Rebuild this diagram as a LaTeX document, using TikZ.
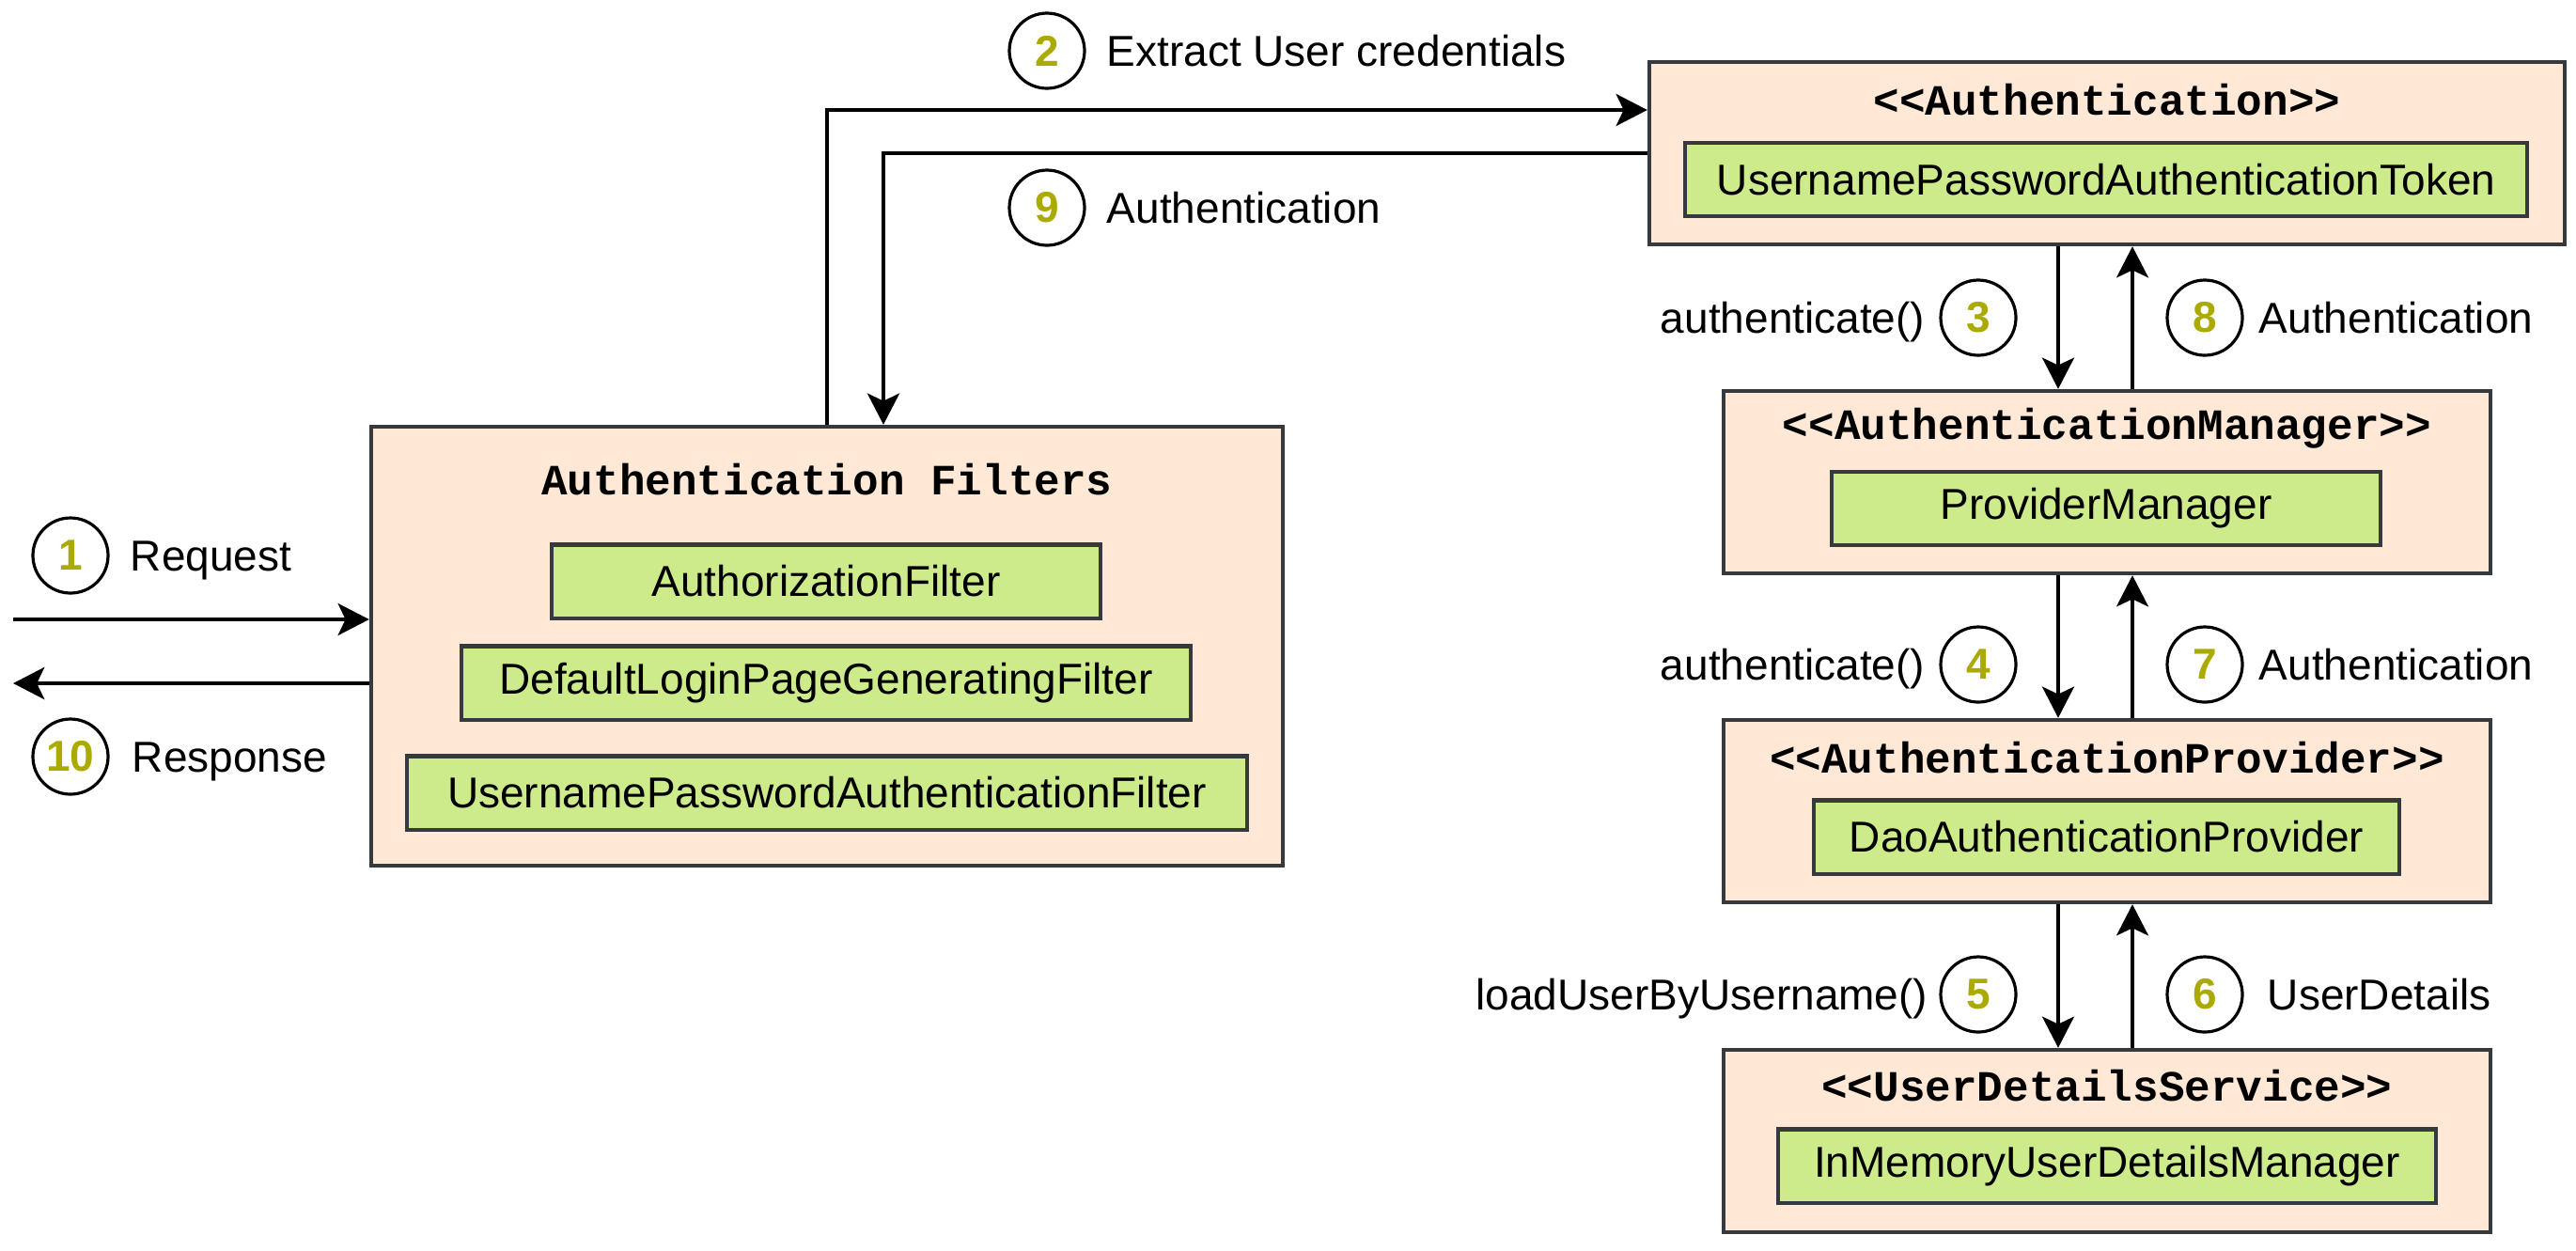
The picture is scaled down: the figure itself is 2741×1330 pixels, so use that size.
\documentclass[tikz,border=0pt]{standalone}
\usepackage{fontspec}
\setmainfont{Liberation Sans}
\setmonofont{Liberation Mono}
\definecolor{boxpeach}{RGB}{255,233,214}
\definecolor{clsgreen}{RGB}{205,235,139}
\definecolor{edgegray}{RGB}{54,57,61}
\definecolor{numolive}{RGB}{170,170,0}
\usetikzlibrary{arrows.meta,positioning,calc}

\begin{document}
\begin{tikzpicture}[x=0.25pt, y=-0.25pt, >={Stealth[length=8.3pt,width=8.5pt,inset=2pt]},
                    every node/.style={font=\fontsize{11.5}{14}\selectfont},
                    outerbox/.style={draw=edgegray, line width=1.1pt, fill=boxpeach},
                    innerbox/.style={draw=edgegray, line width=1.1pt, fill=clsgreen, minimum height=19.6pt},
                    ttl/.style={font=\fontsize{11.5}{14}\selectfont\ttfamily\bfseries},
                    badge/.style={draw, circle, line width=0.8pt, minimum size=20pt, inner sep=0pt, text=numolive, font=\fontsize{11.5}{14}\selectfont\bfseries},
                    lbl/.style={inner sep=0pt, anchor=west, text height=8.2pt, text depth=0pt}]
                    \useasboundingbox (0,0) rectangle (2741,1330);
                    % filter chain
                    \node[outerbox, minimum width=242.5pt, minimum height=116.75pt] (filters) at (880,687.5) {};
                    \node[ttl] (filterstitle) at (880,510) {Authentication Filters};
                    \node[innerbox, minimum width=146pt] (authz) at (879,618.5) {AuthorizationFilter};
                    \node[innerbox, minimum width=194pt] (deflogin) at (879,726.5) {DefaultLoginPageGeneratingFilter};
                    \node[innerbox, minimum width=223.5pt] (upfilter) at (880,843.5) {UsernamePasswordAuthenticationFilter};
                    % right column
                    \node[outerbox, minimum width=243.5pt, minimum height=48.5pt] (auth) at (2242,163) {};
                    \node[ttl] (authtitle) at (2242,106) {<<Authentication>>};
                    \node[innerbox, minimum width=224pt] (token) at (2241,191) {UsernamePasswordAuthenticationToken};
                    \node[outerbox, minimum width=204pt, minimum height=48.5pt] (mgr) at (2242,513) {};
                    \node[ttl] (mgrtitle) at (2242,456) {<<AuthenticationManager>>};
                    \node[innerbox, minimum width=146pt] (provmgr) at (2241,541) {ProviderManager};
                    \node[outerbox, minimum width=204pt, minimum height=48.5pt] (prov) at (2242,863) {};
                    \node[ttl] (provtitle) at (2242,806) {<<AuthenticationProvider>>};
                    \node[innerbox, minimum width=155.75pt] (dao) at (2241.5,890.5) {DaoAuthenticationProvider};
                    \node[outerbox, minimum width=204pt, minimum height=48.5pt] (uds) at (2242,1214) {};
                    \node[ttl] (udstitle) at (2242,1155) {<<UserDetailsService>>};
                    \node[innerbox, minimum width=175pt] (inmem) at (2242,1240.5) {InMemoryUserDetailsManager};
                    % step numbers and labels
                    \node[badge] (n1) at (75,591) {1};
                    \node[lbl] (t1) at (138,591) {Request};
                    \node[badge] (n10) at (75,805) {10};
                    \node[lbl] (t10) at (140,805) {Response};
                    \node[badge] (n2) at (1114,54) {2};
                    \node[lbl] (t2) at (1177,54) {Extract User credentials};
                    \node[badge] (n9) at (1114,221) {9};
                    \node[lbl] (t9) at (1177,221) {Authentication};
                    \node[badge] (n3) at (2105,338) {3};
                    \node[lbl, anchor=east] (t3) at (2049,338) {authenticate()};
                    \node[badge] (n8) at (2346,338) {8};
                    \node[lbl] (t8) at (2403,338) {Authentication};
                    \node[badge] (n4) at (2105,707) {4};
                    \node[lbl, anchor=east] (t4) at (2049,707) {authenticate()};
                    \node[badge] (n7) at (2346,707) {7};
                    \node[lbl] (t7) at (2403,707) {Authentication};
                    \node[badge] (n5) at (2105,1058) {5};
                    \node[lbl, anchor=east] (t5) at (2052,1058) {loadUserByUsername()};
                    \node[badge] (n6) at (2346,1058) {6};
                    \node[lbl] (t6) at (2412,1058) {UserDetails};
                    % connectors
                    \coordinate (client) at (14,659);
                    \coordinate (clientback) at (14,727);
                    \draw[->, line width=0.85pt] (client) -- (client -| filters.west);
                    \draw[->, line width=1.1pt] (clientback -| filters.west) -- (clientback);
                    \draw[->, line width=0.9pt] (filters.north) |- ($(auth.west)+(0,-46)$);
                    \draw[->, line width=1.2pt] (auth.west) -| ($(filters.north)+(60,0)$);
                    \draw[->, line width=1pt] ([xshift=-13pt]auth.south) -- ([xshift=-13pt]mgr.north);
                    \draw[->, line width=0.8pt] ([xshift=6.75pt]mgr.north) -- ([xshift=6.75pt]auth.south);
                    \draw[->, line width=1pt] ([xshift=-13pt]mgr.south) -- ([xshift=-13pt]prov.north);
                    \draw[->, line width=0.8pt] ([xshift=6.75pt]prov.north) -- ([xshift=6.75pt]mgr.south);
                    \draw[->, line width=0.8pt] ([xshift=-13pt]prov.south) -- ([xshift=-13pt]uds.north);
                    \draw[->, line width=0.8pt] ([xshift=6.75pt]uds.north) -- ([xshift=6.75pt]prov.south);
                \end{tikzpicture}
\end{document}
